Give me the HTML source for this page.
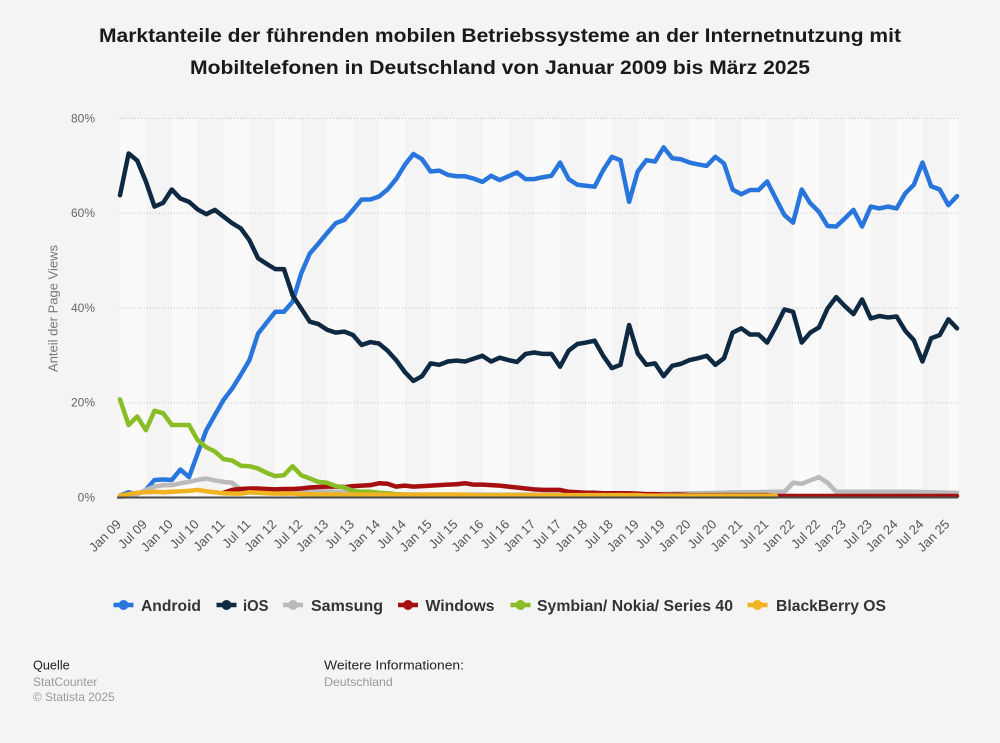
<!DOCTYPE html>
<html><head><meta charset="utf-8">
<style>
html,body{margin:0;padding:0;background:#f4f4f4;}
svg{display:block;font-family:"Liberation Sans",Arial,sans-serif;}
</style></head>
<body>
<svg width="1000" height="743" viewBox="0 0 1000 743" xmlns="http://www.w3.org/2000/svg">
<rect x="0" y="0" width="1000" height="743" fill="#f4f4f4"/>
<!-- title -->
<text x="500" y="42" text-anchor="middle" font-size="19" font-weight="bold" fill="#1a1a1a" textLength="802" lengthAdjust="spacingAndGlyphs">Marktanteile der führenden mobilen Betriebssysteme an der Internetnutzung mit</text>
<text x="500" y="74" text-anchor="middle" font-size="19" font-weight="bold" fill="#1a1a1a" textLength="620" lengthAdjust="spacingAndGlyphs">Mobiltelefonen in Deutschland von Januar 2009 bis März 2025</text>

<!-- bands -->
<g fill="#fafafa">
<rect x="120" y="118" width="25.89" height="379"/>
<rect x="171.8" y="118" width="25.89" height="379"/>
<rect x="223.5" y="118" width="25.89" height="379"/>
<rect x="275.3" y="118" width="25.89" height="379"/>
<rect x="327.1" y="118" width="25.89" height="379"/>
<rect x="378.9" y="118" width="25.89" height="379"/>
<rect x="430.6" y="118" width="25.89" height="379"/>
<rect x="482.4" y="118" width="25.89" height="379"/>
<rect x="534.2" y="118" width="25.89" height="379"/>
<rect x="586.0" y="118" width="25.89" height="379"/>
<rect x="637.7" y="118" width="25.89" height="379"/>
<rect x="689.5" y="118" width="25.89" height="379"/>
<rect x="741.3" y="118" width="25.89" height="379"/>
<rect x="793.1" y="118" width="25.89" height="379"/>
<rect x="844.8" y="118" width="25.89" height="379"/>
<rect x="896.6" y="118" width="25.89" height="379"/>
<rect x="948.4" y="118" width="9.6" height="379"/>
</g>

<!-- gridlines -->
<g stroke="#c4c4c4" stroke-width="1" stroke-dasharray="1,2">
<line x1="117" y1="118.5" x2="958" y2="118.5"/>
<line x1="117" y1="213.25" x2="958" y2="213.25"/>
<line x1="117" y1="308" x2="958" y2="308"/>
<line x1="117" y1="402.75" x2="958" y2="402.75"/>
</g>

<!-- y labels -->
<g font-size="12" fill="#666" text-anchor="end">
<text x="95" y="122.5">80%</text>
<text x="95" y="217.2">60%</text>
<text x="95" y="312">40%</text>
<text x="95" y="406.7">20%</text>
<text x="95" y="501.5">0%</text>
</g>
<text transform="translate(57.5,308.5) rotate(-90)" text-anchor="middle" font-size="13" fill="#777">Anteil der Page Views</text>

<!-- series -->
<g transform="translate(120,497) scale(8.6289,-4.7375)" fill="none" stroke-linejoin="round" stroke-linecap="round">
<polyline vector-effect="non-scaling-stroke" stroke="#2876dd" stroke-width="4.5" points="0,0.3 1,1.0 2,0.6 3,1.5 4,3.6 5,3.7 6,3.6 7,5.8 8,4.2 9,9.2 10,14.1 11,17.3 12,20.5 13,22.9 14,25.8 15,28.9 16,34.5 17,36.8 18,39.1 19,39.1 20,41.2 21,47.2 22,51.4 23,53.5 24,55.7 25,57.8 26,58.5 27,60.6 28,62.8 29,62.8 30,63.4 31,64.9 32,67.1 33,70.1 34,72.4 35,71.3 36,68.7 37,68.9 38,68.0 39,67.7 40,67.7 41,67.2 42,66.5 43,67.8 44,66.9 45,67.7 46,68.5 47,67.1 48,67.1 49,67.5 50,67.8 51,70.6 52,67.1 53,65.9 54,65.7 55,65.5 56,69.0 57,71.8 58,71.1 59,62.3 60,68.7 61,71.1 62,70.8 63,73.8 64,71.5 65,71.3 66,70.6 67,70.2 68,69.9 69,71.8 70,70.4 71,64.9 72,63.9 73,64.8 74,64.8 75,66.6 76,63.0 77,59.5 78,57.9 79,64.9 80,62.0 81,60.2 82,57.2 83,57.1 84,58.8 85,60.6 86,57.1 87,61.3 88,60.9 89,61.3 90,60.9 91,64.1 92,65.9 93,70.6 94,65.6 95,64.9 96,61.6 97,63.5"/>
<polyline vector-effect="non-scaling-stroke" stroke="#0f2942" stroke-width="4.5" points="0,63.7 1,72.5 2,71.0 3,66.6 4,61.3 5,62.1 6,64.9 7,63.0 8,62.3 9,60.7 10,59.7 11,60.6 12,59.2 13,57.8 14,56.7 15,54.2 16,50.4 17,49.2 18,48.1 19,48.1 20,42.6 21,39.8 22,37.0 23,36.5 24,35.3 25,34.7 26,34.9 27,34.2 28,32.1 29,32.7 30,32.4 31,30.9 32,28.9 33,26.4 34,24.5 35,25.5 36,28.2 37,27.9 38,28.6 39,28.8 40,28.6 41,29.2 42,29.8 43,28.6 44,29.4 45,28.9 46,28.5 47,30.2 48,30.5 49,30.2 50,30.2 51,27.5 52,30.9 53,32.3 54,32.6 55,33.0 56,29.8 57,27.2 58,27.9 59,36.3 60,30.3 61,27.9 62,28.2 63,25.5 64,27.7 65,28.1 66,28.9 67,29.3 68,29.8 69,27.9 70,29.3 71,34.7 72,35.6 73,34.3 74,34.3 75,32.6 76,35.9 77,39.6 78,39.1 79,32.6 80,34.7 81,35.8 82,39.8 83,42.2 84,40.3 85,38.6 86,41.7 87,37.7 88,38.2 89,37.9 90,38.1 91,35.1 92,33.1 93,28.6 94,33.5 95,34.2 96,37.5 97,35.6"/>
<polyline vector-effect="non-scaling-stroke" stroke="#bababa" stroke-width="4.5" points="0,0 1,0.3 2,0.6 3,1.5 4,2.2 5,2.5 6,2.5 7,2.9 8,3.2 9,3.6 10,3.9 11,3.5 12,3.2 13,3.0 14,1.6 15,1.3 16,1.3 17,1.2 18,1.3 19,1.5 20,1.6 21,1.4 22,1.3 23,1.2 24,1.2 25,1.1 26,1.0 27,0.9 28,0.8 30,0.6 35,0.5 45,0.5 55,0.5 62,0.6 66,0.8 70,0.9 71,1.0 72,1.0 76,1.1 77,1.1 78,3.0 79,2.8 80,3.5 81,4.2 82,3.0 83,1.1 84,1.1 88,1.1 92,1.1 96,0.9 97,0.9"/>
<polyline vector-effect="non-scaling-stroke" stroke="#a50f0f" stroke-width="4.5" points="12,0.9 13,1.5 14,1.7 15,1.8 16,1.8 17,1.7 18,1.6 19,1.7 20,1.7 21,1.8 22,2.0 23,2.1 24,2.2 25,2.2 26,2.1 27,2.3 28,2.4 29,2.5 30,2.9 31,2.8 32,2.2 33,2.4 34,2.2 35,2.3 36,2.4 37,2.5 38,2.6 39,2.7 40,2.9 41,2.6 42,2.6 43,2.5 44,2.4 45,2.2 46,2.0 47,1.8 48,1.6 49,1.5 50,1.5 51,1.5 52,1.1 53,1.0 54,0.9 55,0.9 56,0.8 57,0.8 58,0.8 59,0.8 60,0.7 61,0.6 62,0.6 63,0.5 64,0.5 65,0.5 66,0.4 75,0.4 76,0.2 97,0.2"/>
<polyline vector-effect="non-scaling-stroke" stroke="#88bd25" stroke-width="4.5" points="0,20.6 1,15.2 2,17.0 3,14.1 4,18.2 5,17.7 6,15.2 7,15.2 8,15.2 9,12.0 10,10.5 11,9.6 12,8.0 13,7.7 14,6.6 15,6.5 16,6.0 17,5.1 18,4.4 19,4.6 20,6.5 21,4.6 22,3.9 23,3.2 24,3.0 25,2.3 26,2.0 27,1.3 28,1.1 29,1.1 30,0.9 31,0.8 32,0.6 33,0.5 34,0.4 35,0.3 50,0.2 76,0.1"/>
<polyline vector-effect="non-scaling-stroke" stroke="#f0b323" stroke-width="4.5" points="0,0.3 1,0.6 2,0.9 3,1.0 4,1.1 5,1.0 6,1.1 7,1.2 8,1.3 9,1.5 10,1.2 11,1.0 12,0.8 13,0.7 14,0.7 15,1.0 16,0.9 17,0.8 18,0.7 19,0.7 20,0.7 21,0.6 25,0.5 40,0.5 41,0.4 60,0.4 61,0.3 76,0.3"/>
</g>

<!-- axis baseline -->
<line x1="117" y1="497.5" x2="958" y2="497.5" stroke="#4a4a4a" stroke-width="2"/>

<!-- x labels -->
<g font-size="13" fill="#555" text-anchor="end">
<text transform="translate(122.0,525) rotate(-45)">Jan 09</text>
<text transform="translate(147.9,525) rotate(-45)">Jul 09</text>
<text transform="translate(173.8,525) rotate(-45)">Jan 10</text>
<text transform="translate(199.7,525) rotate(-45)">Jul 10</text>
<text transform="translate(225.5,525) rotate(-45)">Jan 11</text>
<text transform="translate(251.4,525) rotate(-45)">Jul 11</text>
<text transform="translate(277.3,525) rotate(-45)">Jan 12</text>
<text transform="translate(303.2,525) rotate(-45)">Jul 12</text>
<text transform="translate(329.1,525) rotate(-45)">Jan 13</text>
<text transform="translate(355.0,525) rotate(-45)">Jul 13</text>
<text transform="translate(380.9,525) rotate(-45)">Jan 14</text>
<text transform="translate(406.8,525) rotate(-45)">Jul 14</text>
<text transform="translate(432.6,525) rotate(-45)">Jan 15</text>
<text transform="translate(458.5,525) rotate(-45)">Jul 15</text>
<text transform="translate(484.4,525) rotate(-45)">Jan 16</text>
<text transform="translate(510.3,525) rotate(-45)">Jul 16</text>
<text transform="translate(536.2,525) rotate(-45)">Jan 17</text>
<text transform="translate(562.1,525) rotate(-45)">Jul 17</text>
<text transform="translate(588.0,525) rotate(-45)">Jan 18</text>
<text transform="translate(613.8,525) rotate(-45)">Jul 18</text>
<text transform="translate(639.7,525) rotate(-45)">Jan 19</text>
<text transform="translate(665.6,525) rotate(-45)">Jul 19</text>
<text transform="translate(691.5,525) rotate(-45)">Jan 20</text>
<text transform="translate(717.4,525) rotate(-45)">Jul 20</text>
<text transform="translate(743.3,525) rotate(-45)">Jan 21</text>
<text transform="translate(769.2,525) rotate(-45)">Jul 21</text>
<text transform="translate(795.1,525) rotate(-45)">Jan 22</text>
<text transform="translate(820.9,525) rotate(-45)">Jul 22</text>
<text transform="translate(846.8,525) rotate(-45)">Jan 23</text>
<text transform="translate(872.7,525) rotate(-45)">Jul 23</text>
<text transform="translate(898.6,525) rotate(-45)">Jan 24</text>
<text transform="translate(924.5,525) rotate(-45)">Jul 24</text>
<text transform="translate(950.4,525) rotate(-45)">Jan 25</text>
</g>

<!-- legend -->
<g stroke-width="4.5" stroke-linecap="butt">
<line x1="113.5" y1="605" x2="133.5" y2="605" stroke="#2876dd"/><circle cx="123.5" cy="605" r="5" fill="#2876dd" stroke="none"/>
<line x1="216.5" y1="605" x2="236.5" y2="605" stroke="#0f2942"/><circle cx="226.5" cy="605" r="5" fill="#0f2942" stroke="none"/>
<line x1="283" y1="605" x2="303" y2="605" stroke="#bababa"/><circle cx="293" cy="605" r="5" fill="#bababa" stroke="none"/>
<line x1="398" y1="605" x2="418" y2="605" stroke="#a50f0f"/><circle cx="408" cy="605" r="5" fill="#a50f0f" stroke="none"/>
<line x1="510.5" y1="605" x2="530.5" y2="605" stroke="#88bd25"/><circle cx="520.5" cy="605" r="5" fill="#88bd25" stroke="none"/>
<line x1="747.5" y1="605" x2="767.5" y2="605" stroke="#f0b323"/><circle cx="757.5" cy="605" r="5" fill="#f0b323" stroke="none"/>
</g>
<g font-size="15.5" font-weight="bold" fill="#333">
<text x="141" y="611" textLength="60" lengthAdjust="spacingAndGlyphs">Android</text>
<text x="243" y="611" textLength="25.5" lengthAdjust="spacingAndGlyphs">iOS</text>
<text x="311" y="611" textLength="72" lengthAdjust="spacingAndGlyphs">Samsung</text>
<text x="425.5" y="611" textLength="69" lengthAdjust="spacingAndGlyphs">Windows</text>
<text x="537" y="611" textLength="196" lengthAdjust="spacingAndGlyphs">Symbian/ Nokia/ Series 40</text>
<text x="776" y="611" textLength="110" lengthAdjust="spacingAndGlyphs">BlackBerry OS</text>
</g>

<!-- footer -->
<text x="33" y="669.5" font-size="13" fill="#222" textLength="36.7" lengthAdjust="spacingAndGlyphs">Quelle</text>
<text x="33" y="686" font-size="12" fill="#999" textLength="64.3" lengthAdjust="spacingAndGlyphs">StatCounter</text>
<text x="33" y="701" font-size="12" fill="#999" textLength="81.7" lengthAdjust="spacingAndGlyphs">© Statista 2025</text>
<text x="324" y="669.5" font-size="13" fill="#222" textLength="140" lengthAdjust="spacingAndGlyphs">Weitere Informationen:</text>
<text x="324" y="686" font-size="12" fill="#999" textLength="68.7" lengthAdjust="spacingAndGlyphs">Deutschland</text>
</svg>
</body></html>
